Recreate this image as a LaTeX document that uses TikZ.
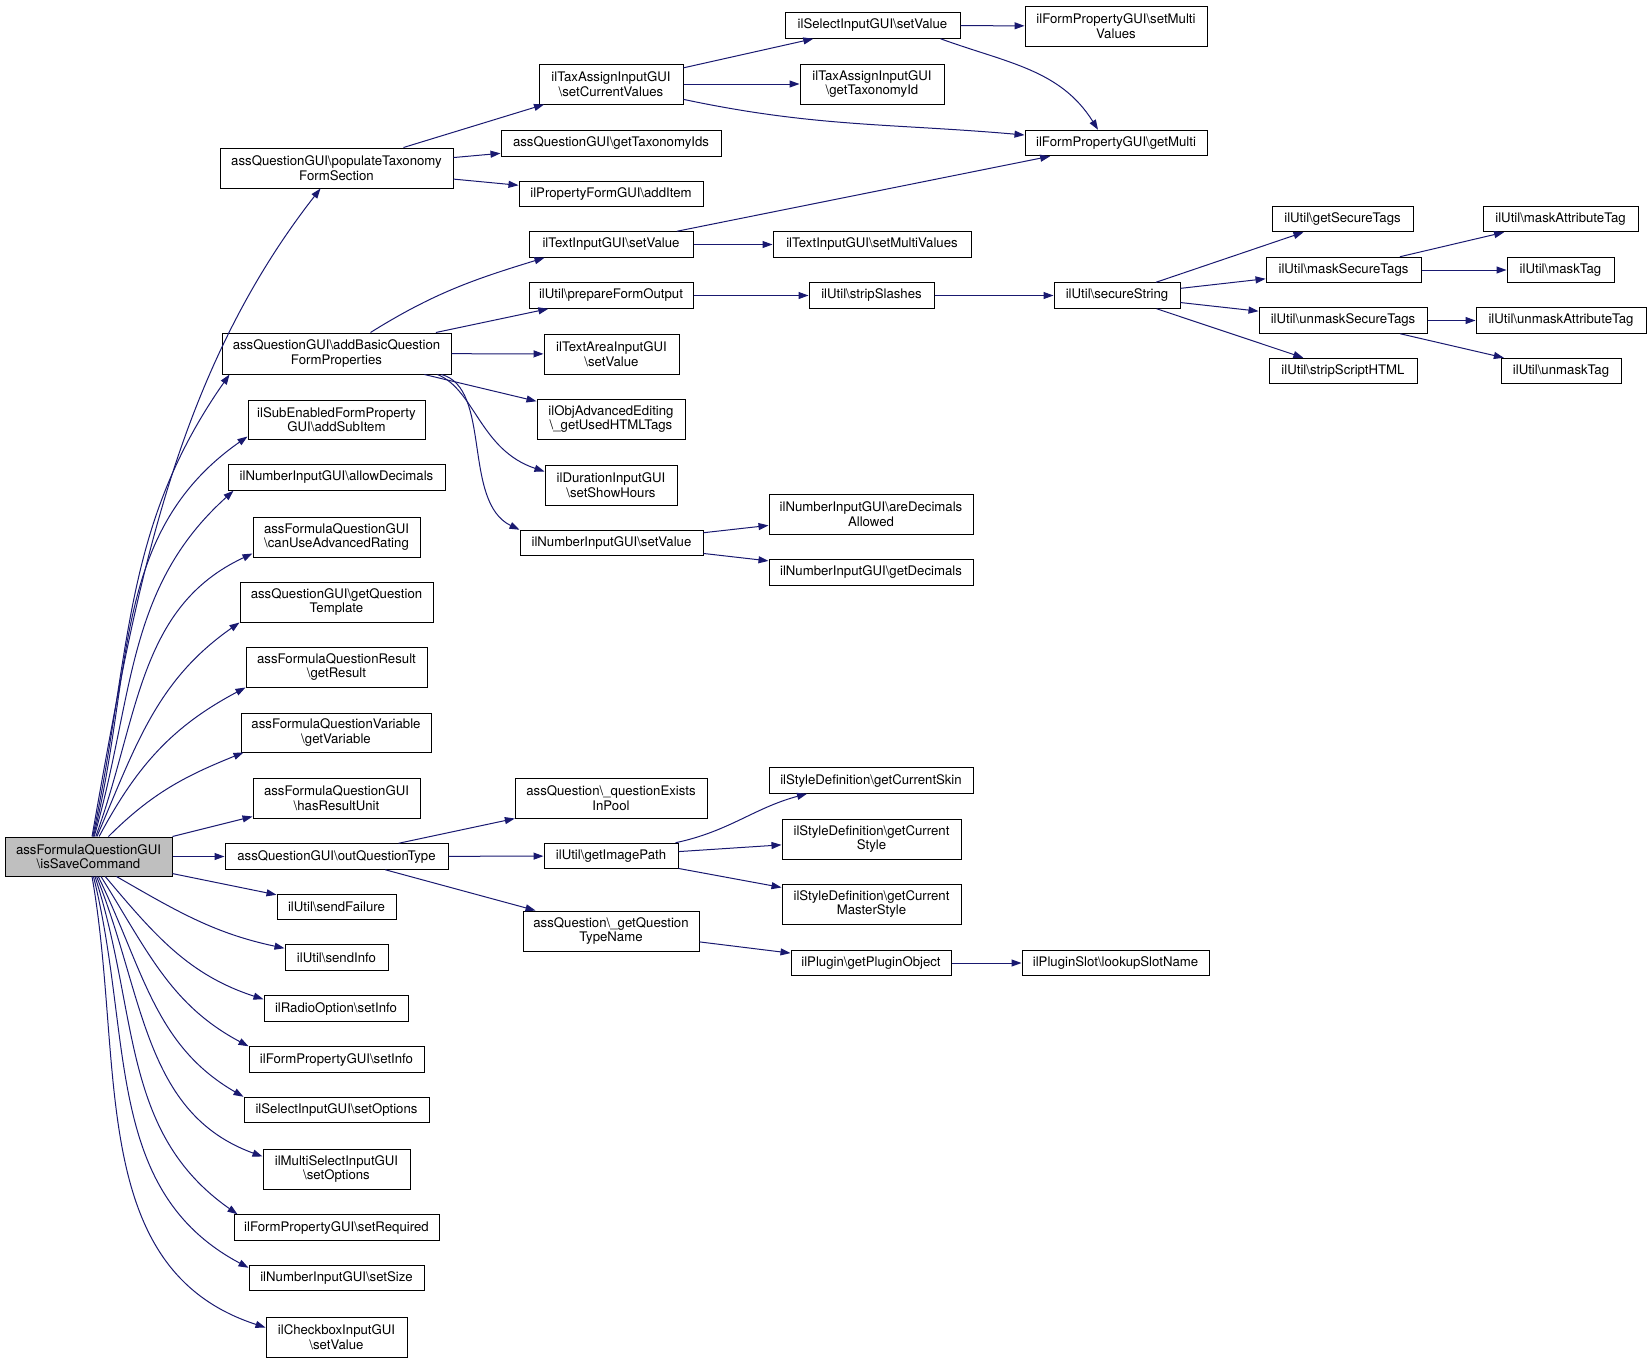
\documentclass[tikz,border=0pt]{standalone}
\usepackage{fontspec}
\setmainfont{TeX Gyre Heros}
\usepackage{tikz}
\usetikzlibrary{arrows.meta}
\definecolor{edgeblue}{HTML}{191970}
\newcommand{\bsl}{\textbackslash}
\begin{document}
\begin{tikzpicture}
[every node/.style={inner sep=2pt, align=center, font=\fontsize{13.2}{14.5}\selectfont},
 fnbox/.style={rectangle, draw=black, fill=white, line width=1pt},
 oneline/.style={fnbox, minimum height=25.5pt},
 twoline/.style={fnbox, minimum height=40pt},
 call/.style={line width=1pt, draw=edgeblue, -{Triangle[length=10pt,width=7pt]}}]
\useasboundingbox (0pt, 0pt) rectangle (1647pt, -1363pt);
\node (1) [twoline, fill=gray!50, minimum width=167pt, minimum height=39pt] at (88.5pt, -856.5pt) {assFormulaQuestionGUI\\\bsl isSaveCommand};
\node (2) [twoline, minimum width=233pt] at (336.5pt, -168pt) {assQuestionGUI\bsl populateTaxonomy\\FormSection};
\node (3) [twoline, minimum width=229pt, minimum height=41pt] at (336.5pt, -353.5pt) {assQuestionGUI\bsl addBasicQuestion\\FormProperties};
\node (4) [twoline, minimum width=177pt, minimum height=39pt] at (336.5pt, -419.5pt) {ilSubEnabledFormProperty\\GUI\bsl addSubItem};
\node (5) [oneline, minimum width=217pt] at (336.5pt, -477.5pt) {ilNumberInputGUI\bsl allowDecimals};
\node (6) [twoline, minimum width=167pt] at (336.5pt, -537pt) {assFormulaQuestionGUI\\\bsl canUseAdvancedRating};
\node (7) [twoline, minimum width=193pt] at (336.5pt, -602pt) {assQuestionGUI\bsl getQuestion\\Template};
\node (8) [twoline, minimum width=181pt] at (336.5pt, -667pt) {assFormulaQuestionResult\\\bsl getResult};
\node (9) [twoline, minimum width=190pt, minimum height=39pt] at (336pt, -732.5pt) {assFormulaQuestionVariable\\\bsl getVariable};
\node (10) [twoline, minimum width=167pt] at (336.5pt, -798pt) {assFormulaQuestionGUI\\\bsl hasResultUnit};
\node (11) [oneline, minimum width=223pt] at (336.5pt, -856.5pt) {assQuestionGUI\bsl outQuestionType};
\node (12) [oneline, minimum width=119pt] at (336.5pt, -907pt) {ilUtil\bsl sendFailure};
\node (13) [oneline, minimum width=103pt] at (336.5pt, -957.5pt) {ilUtil\bsl sendInfo};
\node (14) [oneline, minimum width=144pt] at (336pt, -1008.5pt) {ilRadioOption\bsl setInfo};
\node (15) [oneline, minimum width=175pt] at (336.5pt, -1059.5pt) {ilFormPropertyGUI\bsl setInfo};
\node (16) [oneline, minimum width=185pt] at (336.5pt, -1110pt) {ilSelectInputGUI\bsl setOptions};
\node (17) [twoline, minimum width=147pt] at (336.5pt, -1169pt) {ilMultiSelectInputGUI\\\bsl setOptions};
\node (18) [oneline, minimum width=205pt] at (336.5pt, -1227.5pt) {ilFormPropertyGUI\bsl setRequired};
\node (19) [oneline, minimum width=175pt] at (336.5pt, -1278pt) {ilNumberInputGUI\bsl setSize};
\node (20) [twoline, minimum width=141pt] at (336.5pt, -1337pt) {ilCheckboxInputGUI\\\bsl setValue};
\node (21) [twoline, minimum width=144pt] at (611pt, -84pt) {ilTaxAssignInputGUI\\\bsl setCurrentValues};
\node (22) [oneline, minimum width=220pt] at (611pt, -143.5pt) {assQuestionGUI\bsl getTaxonomyIds};
\node (23) [oneline, minimum width=184pt] at (611pt, -194pt) {ilPropertyFormGUI\bsl addItem};
\node (24) [oneline, minimum width=164pt] at (611pt, -244.5pt) {ilTextInputGUI\bsl setValue};
\node (25) [oneline, minimum width=164pt] at (611pt, -295.5pt) {ilUtil\bsl prepareFormOutput};
\node (26) [twoline, minimum width=135pt] at (611.5pt, -354pt) {ilTextAreaInputGUI\\\bsl setValue};
\node (27) [twoline, minimum width=148pt] at (611pt, -419pt) {ilObjAdvancedEditing\\\bsl\_getUsedHTMLTags};
\node (28) [twoline, minimum width=132pt] at (611pt, -485pt) {ilDurationInputGUI\\\bsl setShowHours};
\node (29) [oneline, minimum width=183pt] at (611.5pt, -543pt) {ilNumberInputGUI\bsl setValue};
\node (30) [twoline, minimum width=192pt] at (611pt, -798pt) {assQuestion\bsl\_questionExists\\InPool};
\node (31) [oneline, minimum width=134pt] at (611pt, -856pt) {ilUtil\bsl getImagePath};
\node (32) [twoline, minimum width=176pt] at (611pt, -931pt) {assQuestion\bsl\_getQuestion\\TypeName};
\node (33) [oneline, minimum width=175pt] at (872.5pt, -25.5pt) {ilSelectInputGUI\bsl setValue};
\node (34) [twoline, minimum width=144pt] at (872pt, -84pt) {ilTaxAssignInputGUI\\\bsl getTaxonomyId};
\node (35) [oneline, minimum width=198pt] at (872pt, -244.5pt) {ilTextInputGUI\bsl setMultiValues};
\node (36) [oneline, minimum width=125pt] at (871.5pt, -295.5pt) {ilUtil\bsl stripSlashes};
\node (37) [twoline, minimum width=204pt] at (871pt, -514pt) {ilNumberInputGUI\bsl areDecimals\\Allowed};
\node (38) [oneline, minimum width=204pt] at (871pt, -572.5pt) {ilNumberInputGUI\bsl getDecimals};
\node (39) [oneline, minimum width=204pt] at (871pt, -780.5pt) {ilStyleDefinition\bsl getCurrentSkin};
\node (40) [twoline, minimum width=179pt] at (871.5pt, -839pt) {ilStyleDefinition\bsl getCurrent\\Style};
\node (41) [twoline, minimum width=179pt] at (871.5pt, -904pt) {ilStyleDefinition\bsl getCurrent\\MasterStyle};
\node (42) [oneline, minimum width=160pt] at (871pt, -963pt) {ilPlugin\bsl getPluginObject};
\node (43) [twoline, minimum width=182pt] at (1116pt, -26pt) {ilFormPropertyGUI\bsl setMulti\\Values};
\node (44) [oneline, minimum width=182pt] at (1116pt, -143pt) {ilFormPropertyGUI\bsl getMulti};
\node (45) [oneline, minimum width=126pt] at (1117pt, -295.5pt) {ilUtil\bsl secureString};
\node (46) [oneline, minimum width=187pt] at (1115.5pt, -963pt) {ilPluginSlot\bsl lookupSlotName};
\node (47) [oneline, minimum width=141pt] at (1342.5pt, -219pt) {ilUtil\bsl getSecureTags};
\node (48) [oneline, minimum width=155pt] at (1343.5pt, -270pt) {ilUtil\bsl maskSecureTags};
\node (49) [oneline, minimum width=168pt] at (1343pt, -320.5pt) {ilUtil\bsl unmaskSecureTags};
\node (50) [oneline, minimum width=148pt] at (1343pt, -371pt) {ilUtil\bsl stripScriptHTML};
\node (51) [oneline, minimum width=155pt] at (1560.5pt, -219pt) {ilUtil\bsl maskAttributeTag};
\node (52) [oneline, minimum width=107pt] at (1560.5pt, -270pt) {ilUtil\bsl maskTag};
\node (53) [oneline, minimum width=170pt] at (1561pt, -320.5pt) {ilUtil\bsl unmaskAttributeTag};
\node (54) [oneline, minimum width=120pt] at (1561pt, -371pt) {ilUtil\bsl unmaskTag};
% calls from the root
\draw [call] (1) to [out=80, in=232, looseness=0.9] (2);
\draw [call] (1) to [out=78, in=235] ([xshift=8pt]3.south west);
\draw [call] (1) to [out=76, in=215] ([yshift=3pt]4.south west);
\draw [call] (1) to [out=74, in=222] ([xshift=6pt]5.south west);
\draw [call] (1) to [out=70, in=205] ([yshift=4pt]6.south west);
\draw [call] (1) to [out=67, in=215] (7.south west);
\draw [call] (1) to [out=62, in=208] (8.south west);
\draw [call] (1) to [out=45, in=202] ([xshift=3pt]9.south west);
\draw [call] (1.north east) -- ([yshift=2pt]10.south west);
\draw [call] (1) -- (11);
\draw [call] (1) -- (12);
\draw [call] ([xshift=28pt]1.south) to [out=-30, in=168] ([yshift=-4pt]13.north west);
\draw [call] (1) to [out=-50, in=162] ([yshift=-4pt]14.north west);
\draw [call] (1) to [out=-58, in=152] (15.north west);
\draw [call] (1) to [out=-64, in=150] (16.north west);
\draw [call] (1) to [out=-68, in=160] ([yshift=-8pt]17.north west);
\draw [call] (1) to [out=-72, in=145] ([xshift=4pt]18.north west);
\draw [call] (1) to [out=-76, in=152] ([yshift=-3pt]19.north west);
\draw [call] (1) to [out=-80, in=162] ([yshift=-11pt]20.north west);
% second level
\draw [call] (2) -- (21);
\draw [call] (2) -- (22);
\draw [call] (2) -- (23);
\draw [call] ([xshift=34pt]3.north) to [out=32, in=197] ([xshift=16pt]24.south west);
\draw [call] (3) -- (25);
\draw [call] (3) -- (26);
\draw [call] (3) -- (27);
\draw [call] ([xshift=-14pt]3.south east) .. controls (475pt, -390pt) and (480pt, -450pt) .. ([yshift=-7pt]28.north west);
\draw [call] ([xshift=-10pt]3.south east) .. controls (492pt, -388pt) and (462pt, -502pt) .. (29.north west);
\draw [call] (11) -- (30);
\draw [call] (11) -- (31);
\draw [call] (11) -- (32);
% third level and on
\draw [call] (21) -- (33);
\draw [call] (21) -- (34);
\draw [call] (21) to [out=-12, in=175] (44);
\draw [call] (33) -- (43);
\draw [call] ([xshift=-20pt]33.south east) to [out=-20, in=122] ([xshift=-18pt]44.north);
\draw [call] (24) -- (44);
\draw [call] (24) -- (35);
\draw [call] (25) -- (36);
\draw [call] (36) -- (45);
\draw [call] (45) -- (47);
\draw [call] (45) -- (48);
\draw [call] (45) -- (49);
\draw [call] (45) -- (50);
\draw [call] (48) -- (51);
\draw [call] (48) -- (52);
\draw [call] (49) -- (53);
\draw [call] (49) -- (54);
\draw [call] (29) -- (37);
\draw [call] (29) -- (38);
\draw [call] ([xshift=-3pt]31.north east) to [out=12, in=195] ([xshift=-64pt]39.south);
\draw [call] (31) -- (40);
\draw [call] (31) -- (41);
\draw [call] (32) -- (42);
\draw [call] (42) -- (46);
\end{tikzpicture}
\end{document}
